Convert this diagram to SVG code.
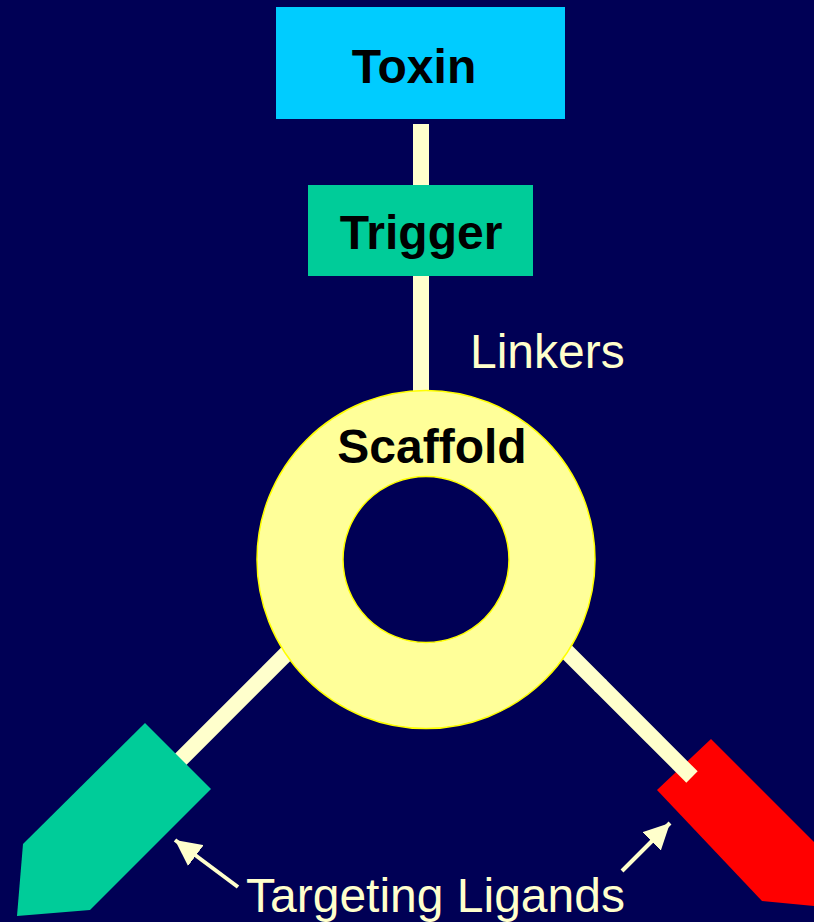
<svg xmlns="http://www.w3.org/2000/svg" width="814" height="922" viewBox="0 0 814 922">
  <style>
    .label-bold { font-family: "Liberation Sans", Arial, sans-serif; font-weight: bold; font-size: 48px; fill: #000000; }
    .label { font-family: "Liberation Sans", Arial, sans-serif; font-size: 48px; fill: #FFFFCC; }
    .linker { stroke: #FFFFCC; stroke-width: 16; fill: none; stroke-linecap: butt; }
    .pointer { stroke: #FFFFCC; stroke-width: 4; fill: none; }
  </style>
  <defs>
    <marker id="head" markerUnits="userSpaceOnUse" markerWidth="28" markerHeight="26" refX="26" refY="13" orient="auto">
      <path d="M0,0 L26,13 L0,26 Z" fill="#FFFFCC"/>
    </marker>
  </defs>

  <rect x="0" y="0" width="814" height="922" fill="#000055"/>

  <!-- linkers drawn under the nodes -->
  <g id="connectors">
    <line class="linker" x1="421" y1="124" x2="421" y2="186"/>
    <line class="linker" x1="421" y1="275" x2="421" y2="395"/>
    <line class="linker" x1="305" y1="635" x2="165" y2="775"/>
    <line class="linker" x1="540" y1="625" x2="601" y2="686"/>
  </g>

  <g id="toxin">
    <rect x="276" y="7" width="289" height="112" fill="#00CCFF"/>
    <text class="label-bold" x="414" y="83" text-anchor="middle">Toxin</text>
  </g>

  <g id="trigger">
    <rect x="308" y="185" width="225" height="91" fill="#00CC99"/>
    <text class="label-bold" x="421" y="249" text-anchor="middle">Trigger</text>
  </g>

  <g id="scaffold">
    <path d="M257,559.5 a169,169 0 1,0 338,0 a169,169 0 1,0 -338,0 Z M343,559.5 a83,83 0 1,1 166,0 a83,83 0 1,1 -166,0 Z"
          fill="#FFFF99" fill-rule="evenodd" stroke="#FFFF00" stroke-width="1.5"/>
    <text class="label-bold" x="432" y="463" text-anchor="middle">Scaffold</text>
  </g>

  <g id="ligand-green">
    <polygon points="145,723 211,789 90,910 17,916 23,844" fill="#00CC99"/>
  </g>

  <g id="ligand-red">
    <polygon points="711,739 657,790 762,901 836,908 832,860" fill="#FF0000"/>
  </g>

  <!-- outer part of the right linker sits over the red ligand -->
  <g id="connector-right">
    <line class="linker" x1="600" y1="685" x2="692" y2="777"/>
  </g>

  <g id="linkers-label">
    <text class="label" x="470" y="368">Linkers</text>
  </g>

  <g id="targeting-label">
    <text class="label" x="246" y="912">Targeting Ligands</text>
    <line class="pointer" x1="238" y1="887" x2="175" y2="840" marker-end="url(#head)"/>
    <line class="pointer" x1="622" y1="871" x2="670" y2="823" marker-end="url(#head)"/>
  </g>
</svg>
